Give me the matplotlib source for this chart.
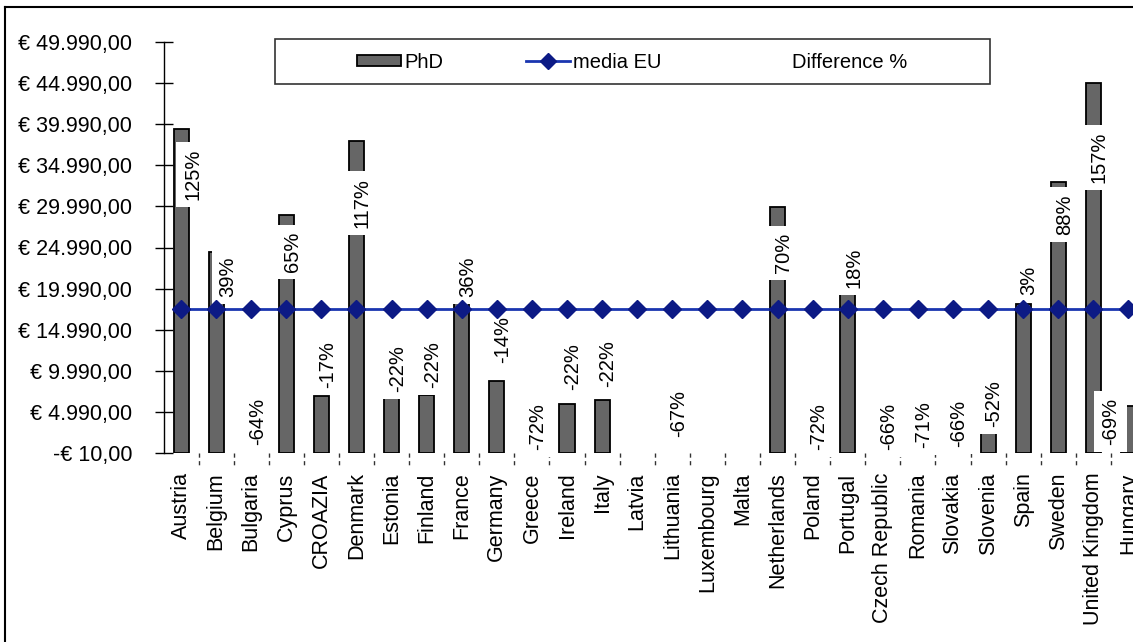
import matplotlib.pyplot as plt
import matplotlib.transforms as mtransforms
import numpy as np
from matplotlib.lines import Line2D
from matplotlib.patches import Patch, Rectangle
from matplotlib.ticker import FuncFormatter

plt.rcParams['font.family'] = ['Liberation Sans', 'DejaVu Sans']

# PhD salaries per country (EUR, None = no figure) and gap to the EU average
countries = ['Austria', 'Belgium', 'Bulgaria', 'Cyprus', 'CROAZIA', 'Denmark',
             'Estonia', 'Finland', 'France', 'Germany', 'Greece', 'Ireland',
             'Italy', 'Latvia', 'Lithuania', 'Luxembourg', 'Malta', 'Netherlands',
             'Poland', 'Portugal', 'Czech Republic', 'Romania', 'Slovakia',
             'Slovenia', 'Spain', 'Sweden', 'United Kingdom', 'Hungary']
phd = [39400, 24400, None, 28950, 6900, 37950, 6650, 7000, 23850, 8700,
       None, 6000, 6450, None, None, None, None, 29900, None, 20700,
       None, None, None, 2500, 18100, 32950, 45050, 5700]
media_eu = 17520
difference = ['125%', '39%', '-64%', '65%', '-17%', '117%', '-22%', '-22%', '36%', '-14%',
              '-72%', '-22%', '-22%', '', '-67%', '', '', '70%', '-72%', '18%',
              '-66%', '-71%', '-66%', '-52%', '3%', '88%', '157%', '-69%']

# where each percentage label sits (bottom of the text, in EUR) and its sideways shift
label_base = [30770, 18970, 960, 22010, 7900, 27360, 7410, 7900, 18970, 10900,
              355, 7650, 8020, 0, 1940, 0, 0, 21900, 355, 20060,
              355, 600, 720, 3150, 19210, 26510, 32840, 1000]
label_dx = [0.34, 0.34] + [0.17] * 25 + [-0.52]

x = np.arange(len(countries))
has_value = [v is not None for v in phd]

fig = plt.figure(figsize=(11.33, 6.42), dpi=100)
ax = fig.add_axes([163.5 / 1133, 189 / 642, 982.5 / 1133, 411 / 642])

ax.bar(x[has_value], [v for v in phd if v is not None], width=0.43,
       color='#666666', edgecolor='black', linewidth=1.3, zorder=2)
ax.plot(x, np.full(len(x), media_eu), color='#1a35b0', linewidth=2,
        marker='D', markersize=9, markerfacecolor='#0c1a85', markeredgecolor='#0c1a85',
        zorder=5)

for i, txt in enumerate(difference):
    if not txt:
        continue
    ax.text(x[i] + label_dx[i], label_base[i], txt, rotation=90, ha='center', va='bottom',
            fontsize=14.5, color='black', zorder=4,
            bbox=dict(boxstyle='square,pad=0.35', facecolor='white', edgecolor='none'))

ax.set_xlim(-0.5, len(x) - 0.5)
ax.set_ylim(-10, 49990)
ax.set_yticks(np.arange(-10, 50000, 5000))


def euro(v, pos):
    s = f"{abs(v):,.2f}".replace(',', ' ').replace('.', ',').replace(' ', '.')
    return ('-€ ' if v < 0 else '€ ') + s


ax.yaxis.set_major_formatter(FuncFormatter(euro))
ax.tick_params(axis='y', direction='inout', length=13, width=1, pad=16, labelsize=15.5)
ax.set_xticks(x)
ax.set_xticklabels(countries, rotation=90, fontsize=15.5)
ax.tick_params(axis='x', length=0, pad=14)

for side in ['top', 'right', 'bottom']:
    ax.spines[side].set_visible(False)
ax.spines['left'].set_linewidth(1)

# dashed category separators below the baseline
trans = mtransforms.blended_transform_factory(ax.transData, ax.transAxes)
ax.vlines(np.arange(0.5, len(x) - 0.5, 1), 0, -0.03, transform=trans, colors='#333333',
          linestyles=(0, (3, 2.5)), linewidth=1, clip_on=False)

# legend inside its own frame
fig.patches.append(Rectangle((275 / 1133, 1 - 84 / 642), 715 / 1133, 45 / 642,
                             transform=fig.transFigure, facecolor='white',
                             edgecolor='#333333', linewidth=1.2, zorder=1))
handles = [Patch(facecolor='#666666', edgecolor='black', linewidth=1.3),
           Line2D([], [], color='#1a35b0', linewidth=2, marker='D', markersize=8,
                  markerfacecolor='#0c1a85', markeredgecolor='#0c1a85'),
           Patch(facecolor='none', edgecolor='none')]
fig.legend(handles, ['PhD', 'media EU', 'Difference %'], loc='center',
           bbox_to_anchor=(632 / 1133, 1 - 62 / 642), ncol=3, frameon=False,
           fontsize=14.5, handlelength=2.2, handleheight=0.5, handletextpad=0.15,
           columnspacing=4.1)

# outer frame of the figure
fig.add_artist(Line2D([5 / 1133, 5 / 1133], [0, 1 - 7 / 642], transform=fig.transFigure,
                      color='black', linewidth=1.5))
fig.add_artist(Line2D([5 / 1133, 1], [1 - 7 / 642, 1 - 7 / 642], transform=fig.transFigure,
                      color='black', linewidth=1.5))

fig.savefig('out.png', dpi=100)
